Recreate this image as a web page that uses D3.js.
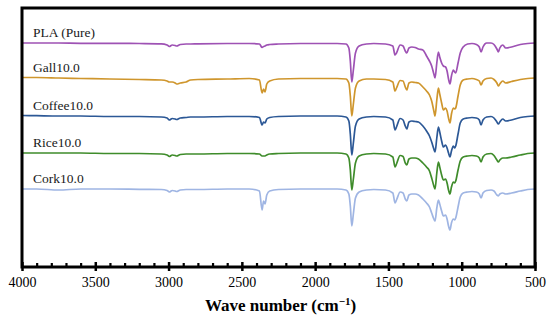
<!DOCTYPE html>
<html>
<head>
<meta charset="utf-8">
<script src="https://cdn.jsdelivr.net/npm/d3@7/dist/d3.min.js"></script>
<style>
  html, body { margin: 0; padding: 0; background: #fff; }
  svg { display: block; }
</style>
</head>
<body>
<svg id="chart" width="550" height="320"></svg>
<script>
// Wavenumbers (cm-1), shared by all spectra
const wavenumbers = [
  4000, 3900, 3750, 3600, 3400, 3200, 3050, 3010, 2995, 2975,
  2955, 2945, 2920, 2880, 2850, 2800, 2600, 2450, 2380, 2362,
  2352, 2342, 2330, 2310, 2250, 2100, 1950, 1850, 1790, 1770,
  1760, 1750, 1740, 1725, 1700, 1650, 1600, 1520, 1470, 1455,
  1445, 1420, 1400, 1385, 1375, 1360, 1340, 1318, 1295, 1265,
  1240, 1220, 1205, 1190, 1182, 1170, 1159, 1150, 1137, 1125,
  1110, 1100, 1090, 1080, 1070, 1057, 1048, 1041, 1025, 1010,
  990, 960, 930, 900, 880, 868, 855, 830, 800, 780,
  760, 750, 740, 720, 700, 660, 600, 550, 500
];

// Relative transmittance (a.u.) for each sample
const plaPure = [
  0, 0, 0, -0.3, -0.3, -0.5, -0.8, -2, -3.5, -2,
  -2.5, -3, -1.5, -1, -1, -0.8, -0.5, -0.5, -1, -4.5,
  -3.5, -3, -2, -1.5, -1, -0.5, -0.5, -0.5, -1, -5,
  -18, -39, -28, -10, -3, -1, -0.5, -1, -3, -12,
  -10, -2, -3, -8, -10, -5, -4, -4.5, -6, -7,
  -13, -18, -23, -31, -35, -20, -9, -14, -20, -23,
  -24, -28, -36, -41, -33, -27, -29, -30, -20, -10,
  -4, -1, -0.5, -1.5, -4, -9, -4, 0, 0, -1.5,
  -6, -9, -5, -2, -5, -4, -1.5, -0.5, 0
];
const gall10 = [
  0.5, 0.5, 0, -0.5, -1, -1.5, -2, -3, -4, -4,
  -5, -6, -5, -4, -2, -1.5, -1, -0.5, -2, -15,
  -11, -14, -6, -3, -1, -0.5, -0.5, -0.5, -1, -5,
  -18, -38, -27, -10, -3, -1, -1, -1.5, -4, -13,
  -10, -2.5, -3, -9, -12, -5, -4, -4.5, -5, -9,
  -13, -17, -23, -33, -38, -22, -10, -16, -25, -32,
  -30, -33, -40, -45, -36, -30, -31, -30, -18, -7,
  -2, -1, -0.5, -1.5, -3, -7, -3, -0.5, 0, -1.5,
  -5, -8, -6, -3, -5, -3.5, -1.5, -0.5, 0
];
const coffee10 = [
  0.5, 0.3, 0, 0, -0.5, -0.5, -1, -2, -4, -2.5,
  -3, -3.5, -2, -1.5, -1, -1, -0.5, -0.5, -1.5, -9,
  -6, -7, -3, -1.5, -0.5, 0, 0, 0, -1, -5,
  -18, -39, -28, -10, -3, -1, -0.5, -1, -4, -14,
  -11, -2.5, -4, -10, -13, -6, -5, -5.5, -6, -10,
  -15, -20, -26, -33, -36, -22, -11, -16, -25, -31,
  -29, -32, -37, -41, -35, -30, -32, -30, -18, -7,
  -3, -2, -1.5, -2, -4, -9, -4, -1, -0.5, -2,
  -6, -8, -6, -3, -5, -4, -1.5, -0.5, 0
];
const rice10 = [
  0, 0, 0, 0, -0.5, -0.5, -1, -2, -3.5, -2,
  -2.5, -3, -1.5, -1, -1, -1, -0.5, -0.5, -1, -3,
  -3, -3, -2, -1, -0.5, 0, 0, 0, -1, -5,
  -17, -37, -27, -10, -3, -1, -0.5, -1, -4, -14,
  -11, -2.5, -3.5, -10, -12, -6, -5, -5, -6, -10,
  -14, -18, -25, -33, -36, -20, -9, -14, -22, -27,
  -26, -30, -37, -41, -34, -29, -30, -28, -17, -8,
  -4, -3, -2.5, -3, -5, -9, -4, -1, -0.5, -2.5,
  -7, -9, -7, -5, -5, -4, -2, -0.5, 0
];
const cork10 = [
  0, 0, -1, 0, 0, -0.3, -0.5, -1.5, -3, -1.5,
  -2, -2.5, -1, -0.5, -0.5, -0.5, 0, 0, -2, -21,
  -12, -15, -6, -2, -0.5, 0, 0, 0, -1, -5,
  -17, -37, -26, -9, -3, -1, -0.5, -1, -4, -14,
  -11, -3, -4, -10, -12, -6, -5, -5, -6, -10,
  -14, -18, -24, -30, -32, -19, -11, -15, -22, -27,
  -26, -30, -37, -41, -34, -30, -31, -29, -18, -8,
  -4, -3, -2.5, -3, -5, -9, -4, -1.5, -1, -2,
  -6, -7, -5, -4, -5, -4, -2, -0.5, 0
];

const seriesNames = ["PLA (Pure)", "Gall10.0", "Coffee10.0", "Rice10.0", "Cork10.0"];
const seriesValues = [plaPure, gall10, coffee10, rice10, cork10];
const seriesOffsets = [224, 189, 151, 114, 78];   // vertical offset for clarity
const seriesColors = ["#9e52b4", "#cf962d", "#2c5896", "#3f8c2b", "#9fb5e3"];

const xTicks = [4000, 3500, 3000, 2500, 2000, 1500, 1000, 500];
const xTitle = "Wave number (cm";

// ---------- drawing ----------
const svg = d3.select("#chart");
const mLeft = 22, mRight = 535, mTop = 8, mBottom = 267;

const x = d3.scaleLinear().domain([4000, 500]).range([mLeft, mRight]);
const y = d3.scaleLinear().domain([0, 259]).range([mBottom, mTop]);

const line = d3.line()
  .x(d => x(d[0]))
  .y(d => y(d[1]))
  .curve(d3.curveMonotoneX);

seriesValues.forEach((vals, i) => {
  if (vals.length !== wavenumbers.length) console.error("length mismatch", seriesNames[i], vals.length);
  const pts = wavenumbers.map((w, k) => [w, seriesOffsets[i] + vals[k]]);
  svg.append("path")
    .attr("d", line(pts))
    .attr("fill", "none")
    .attr("stroke", seriesColors[i])
    .attr("stroke-width", 1.7)
    .attr("stroke-linejoin", "round");
});

// series labels
const labelFont = "'Liberation Serif', 'Times New Roman', serif";
seriesNames.forEach((name, i) => {
  svg.append("text")
    .attr("x", 33)
    .attr("y", y(seriesOffsets[i]) - 6)
    .attr("font-family", labelFont)
    .attr("font-size", 13.5)
    .attr("fill", "#1a1a1a")
    .text(name);
});

// frame
svg.append("rect")
  .attr("x", mLeft).attr("y", mTop)
  .attr("width", mRight - mLeft).attr("height", mBottom - mTop)
  .attr("fill", "none").attr("stroke", "#000").attr("stroke-width", 3);

// minor ticks (inside)
const minor = d3.range(3900, 500, -100).filter(v => v % 500 !== 0);
svg.append("g").attr("transform", `translate(0,${mBottom})`)
  .call(d3.axisBottom(x).tickValues(minor).tickSize(0).tickFormat(""))
  .call(g => g.select(".domain").remove())
  .selectAll(".tick").append("line")
    .attr("y1", -4).attr("y2", 0)
    .attr("stroke", "#000").attr("stroke-width", 2.2);

// major ticks + labels
const xAxis = svg.append("g").attr("transform", `translate(0,${mBottom})`)
  .call(d3.axisBottom(x).tickValues(xTicks).tickSize(3).tickPadding(7).tickFormat(d3.format("d")));
xAxis.select(".domain").remove();
xAxis.selectAll(".tick line").attr("y1", -5).attr("y2", 4).attr("stroke", "#000").attr("stroke-width", 2.5);
xAxis.selectAll(".tick text")
  .attr("font-family", labelFont)
  .attr("font-size", 14)
  .attr("fill", "#000");

// axis title
const title = svg.append("text")
  .attr("x", (mLeft + mRight) / 2 + 2)
  .attr("y", 311)
  .attr("text-anchor", "middle")
  .attr("font-family", labelFont)
  .attr("font-weight", "bold")
  .attr("font-size", 17)
  .attr("fill", "#000");
title.append("tspan").text(xTitle);
title.append("tspan").attr("font-size", 11).attr("dy", -6).text("−1");
title.append("tspan").attr("dy", 6).text(")");
</script>
</body>
</html>
